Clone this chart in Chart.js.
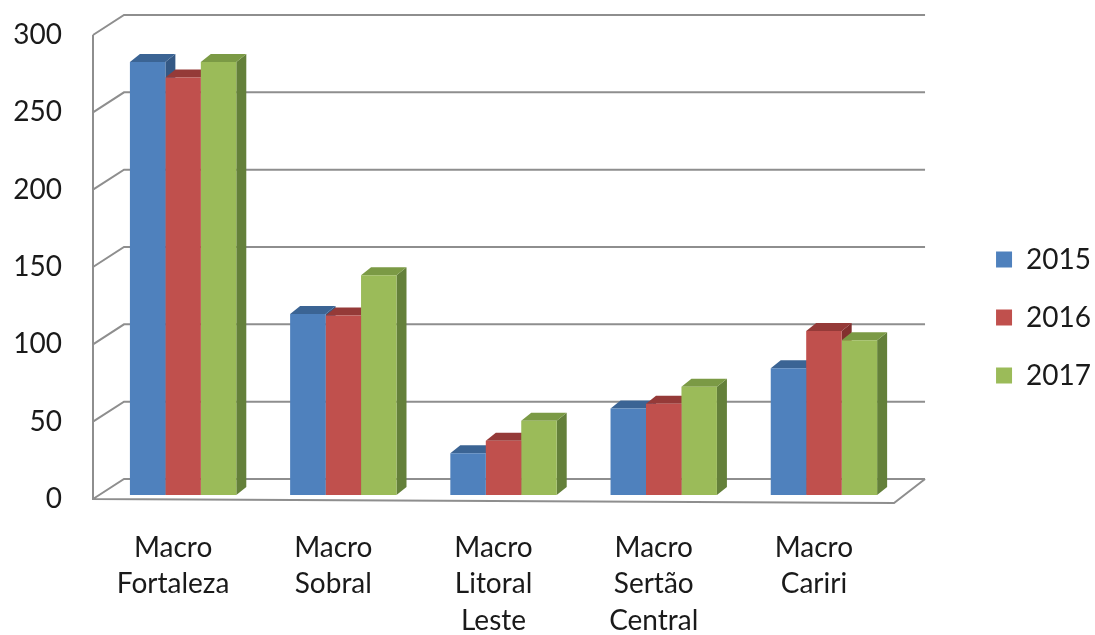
<!DOCTYPE html>
<html>
<head>
<meta charset="utf-8">
<script src="https://cdn.jsdelivr.net/npm/chart.js@4.4.1/dist/chart.umd.min.js"></script>
<style>
  html, body { margin: 0; padding: 0; background: #fff; }
  #wrap { width: 1095px; height: 635px; }
</style>
</head>
<body>
<div id="wrap"><canvas id="chart"></canvas></div>
<script>
const regions = [
  ['Macro', 'Fortaleza'],
  ['Macro', 'Sobral'],
  ['Macro', 'Litoral', 'Leste'],
  ['Macro', 'Sertão', 'Central'],
  ['Macro', 'Cariri']
];
const years = ['2015', '2016', '2017'];
const values2015 = [280, 117, 27, 56, 82];
const values2016 = [270, 116, 35, 59, 106];
const values2017 = [280, 142, 48, 70, 100];
const yTicks = [0, 50, 100, 150, 200, 250, 300];

const frontColors = ['#4F81BD', '#C0504D', '#9BBB59'];
const topColors = ['#3B6494', '#953A38', '#7B9A45'];
const sideColors = ['#345884', '#82302E', '#64803A'];

// bar depth and wall depth in pixels
const barDepth = { dx: 10, dy: -8 };
const wall = { shift: -10, dx: 31, dy: -20, lift: 4 };

Chart.defaults.font.family = 'Lato, "Open Sans", sans-serif';
Chart.defaults.font.size = 28;
Chart.defaults.color = '#1a1a1a';

// back wall, left wall diagonals and floor outline
const walls = {
  id: 'walls',
  beforeDatasetsDraw(chart) {
    const { ctx, scales: { x, y } } = chart;
    const fx = x.left + wall.shift;
    const rx = x.right + wall.shift;
    const fy = v => y.getPixelForValue(v) + wall.lift;
    ctx.save();
    ctx.strokeStyle = '#8e8e8e';
    ctx.lineWidth = 2;
    ctx.beginPath();
    yTicks.forEach(v => {
      ctx.moveTo(fx, fy(v));
      ctx.lineTo(fx + wall.dx, fy(v) + wall.dy);
      ctx.lineTo(rx + wall.dx, fy(v) + wall.dy);
    });
    // front left edge
    ctx.moveTo(fx, fy(yTicks[yTicks.length - 1]));
    ctx.lineTo(fx, fy(0));
    // floor front and right edges
    ctx.lineTo(rx, fy(0) + 4);
    ctx.lineTo(rx + wall.dx, fy(0) + wall.dy);
    ctx.stroke();
    ctx.restore();
  }
};

// top and side faces behind each bar's front
const barFaces = {
  id: 'barFaces',
  beforeDatasetsDraw(chart) {
    const { ctx } = chart;
    const { dx, dy } = barDepth;
    ctx.save();
    chart.data.datasets.forEach((ds, i) => {
      chart.getDatasetMeta(i).data.forEach(bar => {
        const { x, y, base, width } = bar.getProps(['x', 'y', 'base', 'width'], true);
        const l = x - width / 2;
        const r = x + width / 2;
        ctx.fillStyle = sideColors[i];
        ctx.beginPath();
        ctx.moveTo(r, base);
        ctx.lineTo(r + dx, base + dy);
        ctx.lineTo(r + dx, y + dy);
        ctx.lineTo(r, y);
        ctx.closePath();
        ctx.fill();
        ctx.fillStyle = topColors[i];
        ctx.beginPath();
        ctx.moveTo(l, y);
        ctx.lineTo(l + dx, y + dy);
        ctx.lineTo(r + dx, y + dy);
        ctx.lineTo(r, y);
        ctx.closePath();
        ctx.fill();
      });
    });
    ctx.restore();
  }
};

new Chart(document.getElementById('chart'), {
  type: 'bar',
  data: {
    labels: regions,
    datasets: [
      { label: years[0], data: values2015, backgroundColor: frontColors[0] },
      { label: years[1], data: values2016, backgroundColor: frontColors[1] },
      { label: years[2], data: values2017, backgroundColor: frontColors[2] }
    ]
  },
  options: {
    responsive: true,
    maintainAspectRatio: false,
    animation: false,
    layout: { padding: { top: 0, left: 0, bottom: 0, right: -6 } },
    datasets: {
      bar: { categoryPercentage: 0.664, barPercentage: 1, borderWidth: 0 }
    },
    scales: {
      x: {
        grid: { display: false, drawTicks: false },
        border: { display: false },
        ticks: {
          padding: 34,
          labelOffset: -10,
          maxRotation: 0,
          autoSkip: false,
          font: { size: 28, lineHeight: 1.32 }
        },
        afterFit(scale) { scale.height = 140; }
      },
      y: {
        min: 0,
        max: 300,
        grid: { display: false, drawTicks: false },
        border: { display: false },
        ticks: { stepSize: 50, padding: 41, labelOffset: 4 },
        afterFit(scale) {
          scale.width = 103;
          scale.paddingTop = 31;
        }
      },
      yRight: {
        position: 'right',
        grid: { display: false, drawTicks: false },
        border: { display: false },
        ticks: { display: false },
        afterFit(scale) { scale.width = 62; }
      }
    },
    plugins: {
      legend: {
        position: 'right',
        labels: { boxWidth: 16, boxHeight: 16, padding: 30 }
      },
      tooltip: { enabled: false }
    }
  },
  plugins: [walls, barFaces]
});
</script>
</body>
</html>
